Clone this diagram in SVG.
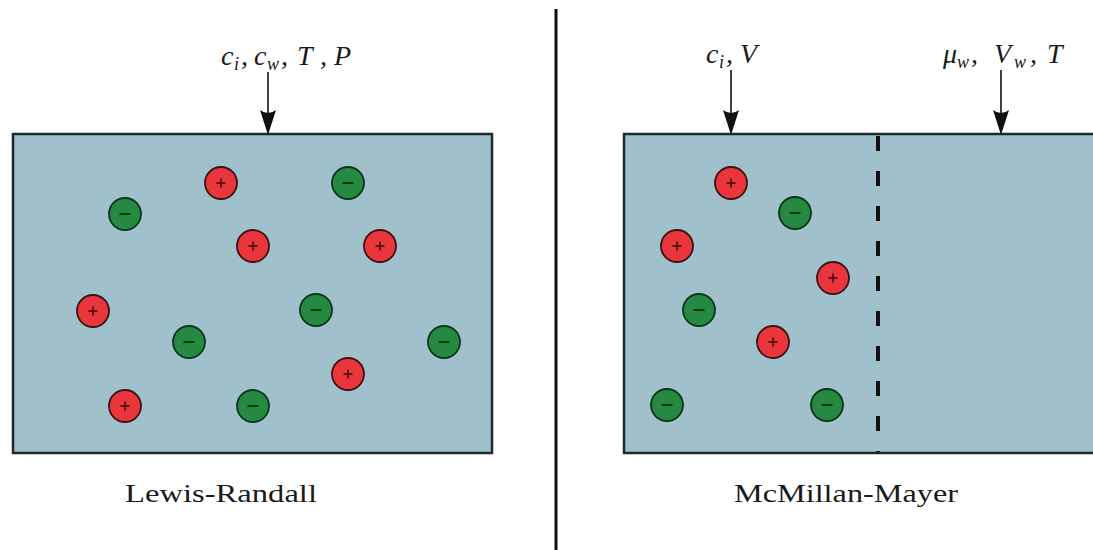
<svg xmlns="http://www.w3.org/2000/svg" width="1093" height="550" viewBox="0 0 1093 550">
<style>
.box{fill:#a0c0cc;stroke:#1c2a30;stroke-width:2.5}
.pos{fill:#e8363c;stroke:#3a1214;stroke-width:1.8}
.neg{fill:#248a42;stroke:#0e3318;stroke-width:1.8}
.sym{stroke:#3a0a0a;stroke-width:1.5;fill:none}
.symn{stroke:#0a2410;stroke-width:1.6;fill:none}
.m{font-family:"Liberation Serif",serif;font-style:italic;font-size:28px;fill:#1a1a1a}
.s{font-family:"Liberation Serif",serif;font-style:italic;font-size:18px;fill:#1a1a1a}
.cap{font-family:"Liberation Serif",serif;font-size:26px;fill:#1a1a1a}
.arr{stroke:#111;stroke-width:1.6;fill:none}
</style>
<defs>
<g id="p"><circle r="16" class="pos"/><path class="sym" d="M-4.5,0H4.5M0,-4.5V4.5"/></g>
<g id="n"><circle r="16" class="neg"/><path class="symn" d="M-5.5,0H5.5"/></g>
<path id="head" d="M0,0 L-8,-25 Q0,-19 8,-25 Z" fill="#111"/>
</defs>
<line x1="556" y1="9" x2="556" y2="550" stroke="#111" stroke-width="3"/>
<g id="lewis-randall">
<rect class="box" x="13" y="134" width="479" height="319"/>
<use href="#n" x="125" y="214"/>
<use href="#p" x="221" y="183"/>
<use href="#n" x="348" y="183"/>
<use href="#p" x="253" y="246"/>
<use href="#p" x="380" y="246"/>
<use href="#p" x="93" y="311"/>
<use href="#n" x="316" y="310"/>
<use href="#n" x="189" y="342"/>
<use href="#n" x="444" y="342"/>
<use href="#p" x="348" y="374"/>
<use href="#p" x="125" y="406"/>
<use href="#n" x="253" y="406"/>
<text class="cap" x="125" y="502" textLength="192" lengthAdjust="spacingAndGlyphs">Lewis-Randall</text>
</g>
<g id="mcmillan-mayer">
<rect class="box" x="624" y="134" width="480" height="319"/>
<line x1="878" y1="136" x2="878" y2="452" stroke="#111" stroke-width="4" stroke-dasharray="15 20"/>
<use href="#p" x="731" y="183"/>
<use href="#n" x="795" y="213"/>
<use href="#p" x="677" y="246"/>
<use href="#p" x="833" y="278"/>
<use href="#n" x="699" y="310"/>
<use href="#p" x="773" y="342"/>
<use href="#n" x="667" y="405"/>
<use href="#n" x="827" y="405"/>
<text class="cap" x="734" y="502" textLength="224" lengthAdjust="spacingAndGlyphs">McMillan-Mayer</text>
</g>
<g id="labels">
<text class="m" x="221" y="65">c</text><text class="s" x="234" y="70">i</text><text class="m" x="241" y="65">,</text>
<text class="m" x="254" y="65">c</text><text class="s" x="267" y="70">w</text><text class="m" x="281" y="65">,</text>
<text class="m" x="297" y="65">T</text><text class="m" x="320" y="65">,</text>
<text class="m" x="334" y="65">P</text>
<text class="m" x="706" y="63">c</text><text class="s" x="719" y="68">i</text><text class="m" x="726" y="63">,</text>
<text class="m" x="740" y="63">V</text>
<text class="m" x="943" y="63">μ</text><text class="s" x="957" y="68">w</text><text class="m" x="971" y="63">,</text>
<text class="m" x="994" y="63">V</text><text class="s" x="1014" y="68">w</text><text class="m" x="1030" y="63">,</text>
<text class="m" x="1047" y="63">T</text>
</g>
<g id="connectors">
<line class="arr" x1="268" y1="72" x2="268" y2="118"/>
<use href="#head" x="268" y="135"/>
<line class="arr" x1="731" y1="70" x2="731" y2="118"/>
<use href="#head" x="731" y="135"/>
<line class="arr" x1="1001" y1="70" x2="1001" y2="118"/>
<use href="#head" x="1001" y="135"/>
</g>
</svg>
